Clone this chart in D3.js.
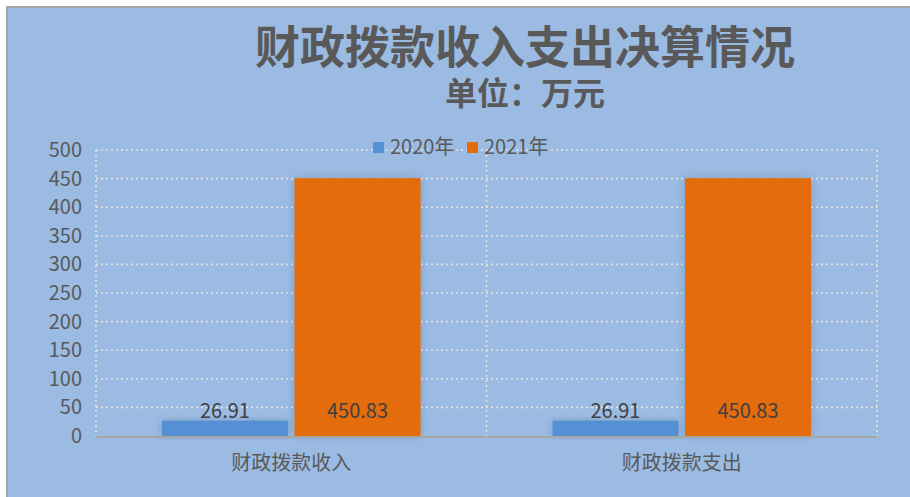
<!DOCTYPE html>
<meta charset="utf-8">
<script src="https://d3js.org/d3.v7.min.js"></script>
<style>
  body { margin: 0; background: #fff; }
  svg text { font-family: "Noto Sans CJK SC", "Noto Sans", sans-serif; }
</style>
<div id="chart"></div>
<script>
// data
var categories = ["财政拨款收入", "财政拨款支出"];
var seriesNames = ["2020年", "2021年"];
var values2020 = [26.91, 26.91];
var values2021 = [450.83, 450.83];
var yTicks = [0, 50, 100, 150, 200, 250, 300, 350, 400, 450, 500];
var colors = ["#5690d4", "#e46c0a"];

var W = 910, H = 497;
var margin = {top: 150, right: 33, bottom: 61, left: 96},
    width = W - margin.left - margin.right,
    height = H - margin.top - margin.bottom;

var root = d3.select("#chart").append("svg")
    .attr("width", W).attr("height", H);

// background + frame
root.append("rect").attr("x", 6).attr("y", 6).attr("width", W - 6).attr("height", H - 6)
    .attr("fill", "#a6a6a6");
root.append("rect").attr("x", 8).attr("y", 8).attr("width", W - 8).attr("height", H - 8)
    .attr("fill", "#9bbbe3");

var defs = root.append("defs");
var f = defs.append("filter").attr("id", "shadow")
    .attr("x", "-20%").attr("y", "-20%").attr("width", "140%").attr("height", "140%");
f.append("feDropShadow").attr("dx", 0).attr("dy", 0).attr("stdDeviation", 4)
    .attr("flood-color", "#000").attr("flood-opacity", 0.18);

// two-line title
var title = root.append("text").attr("text-anchor", "middle")
    .attr("font-weight", "bold").attr("fill", "#595959");
title.append("tspan").attr("x", 525).attr("y", 64).attr("font-size", 45)
    .text("财政拨款收入支出决算情况");
title.append("tspan").attr("x", 525).attr("y", 105).attr("font-size", 32)
    .text("单位：万元");

var svg = root.append("g")
    .attr("transform", "translate(" + margin.left + "," + margin.top + ")");

var x0 = d3.scaleBand().domain(categories).range([0, width]);
var x1 = d3.scaleBand().domain(seriesNames).range([66, x0.bandwidth() - 66]).paddingInner(0.05);
var y = d3.scaleLinear().domain([0, 500]).range([height, 0]);

// gridlines
svg.append("g").selectAll("line").data(yTicks.slice(1)).join("line")
    .attr("x1", 0).attr("x2", width)
    .attr("y1", function(d) { return y(d); }).attr("y2", function(d) { return y(d); })
    .attr("stroke", "#e3e3e3").attr("stroke-width", 1.6).attr("stroke-dasharray", "2,3");
var vlines = [0, x0.bandwidth(), width];
svg.append("g").selectAll("line").data(vlines).join("line")
    .attr("x1", function(d) { return d; }).attr("x2", function(d) { return d; })
    .attr("y1", 0).attr("y2", height)
    .attr("stroke", "#e3e3e3").attr("stroke-width", 1.6).attr("stroke-dasharray", "2,3");

// y axis
var yAxis = svg.append("g")
    .call(d3.axisLeft(y).tickValues(yTicks).tickSize(0).tickPadding(14));
yAxis.select(".domain").remove();
yAxis.selectAll("text").attr("font-size", 20).attr("fill", "#595959");

// bars
var rows = categories.map(function(c, i) {
  return [{cat: c, s: seriesNames[0], v: values2020[i], k: 0},
          {cat: c, s: seriesNames[1], v: values2021[i], k: 1}];
});
var groups = svg.selectAll(".grp").data(rows).join("g")
    .attr("transform", function(d) { return "translate(" + x0(d[0].cat) + ",0)"; });
groups.selectAll("rect").data(function(d) { return d; }).join("rect")
    .attr("x", function(d) { return x1(d.s); })
    .attr("y", function(d) { return y(d.v); })
    .attr("width", x1.bandwidth())
    .attr("height", function(d) { return height - y(d.v); })
    .attr("fill", function(d) { return colors[d.k]; })
    .attr("filter", "url(#shadow)");

// labels
groups.selectAll(".lbl").data(function(d) { return d; }).join("text")
    .attr("x", function(d) { return x1(d.s) + x1.bandwidth() / 2; })
    .attr("y", function(d) { return d.k === 0 ? y(d.v) - 3 : height - 18; })
    .attr("text-anchor", "middle").attr("font-size", 20).attr("fill", "#404040")
    .text(function(d) { return d.v.toFixed(2); });

// x axis
svg.append("line").attr("x1", 0).attr("x2", width).attr("y1", height + 1).attr("y2", height + 1)
    .attr("stroke", "#a6a6a6").attr("stroke-width", 2);
svg.append("g").selectAll("text").data(categories).join("text")
    .attr("x", function(d) { return x0(d) + x0.bandwidth() / 2; })
    .attr("y", height + 34)
    .attr("text-anchor", "middle").attr("font-size", 20).attr("fill", "#595959")
    .text(function(d) { return d; });

// legend
var legend = root.append("g").attr("transform", "translate(373,147)");
var lx = [0, 94];
seriesNames.forEach(function(s, i) {
  legend.append("rect").attr("x", lx[i]).attr("y", -5).attr("width", 11).attr("height", 11)
      .attr("fill", colors[i]);
  legend.append("text").attr("x", lx[i] + 17).attr("y", 7)
      .attr("font-size", 20).attr("fill", "#595959").text(s);
});
</script>
